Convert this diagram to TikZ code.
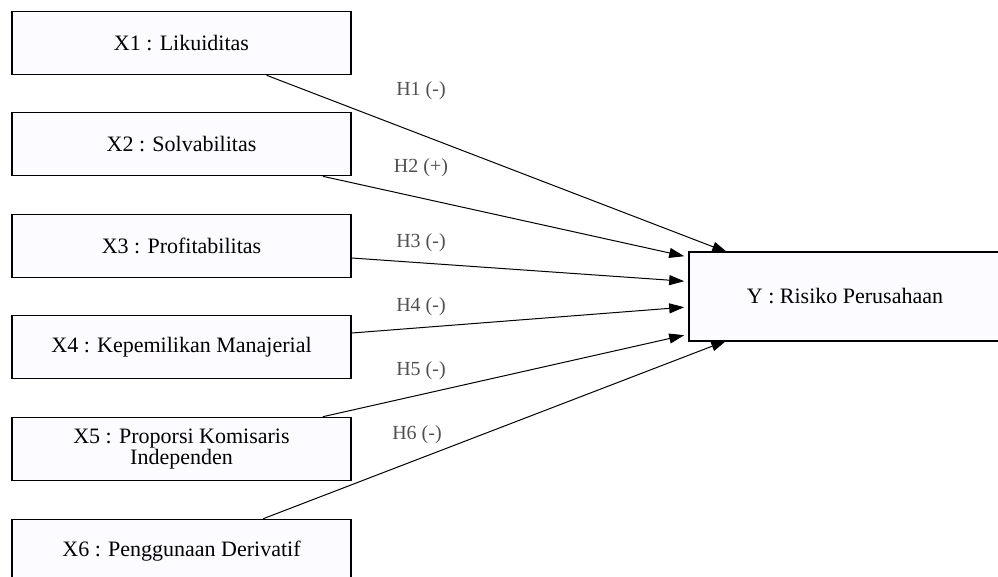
\documentclass[tikz,border=0pt]{standalone}
\usepackage{fontspec}
\setmainfont{Liberation Serif}
\usetikzlibrary{arrows.meta,calc}
\definecolor{boxfill}{HTML}{FCFBFF}
\definecolor{lblgray}{HTML}{505050}
\tikzset{
  varbox/.style={draw=black, line width=1.6pt, fill=boxfill, rectangle, inner sep=0pt,
    font=\fontsize{22}{26}\selectfont, align=center, text=black},
  wide/.style={minimum width=339pt, minimum height=63pt},
  link/.style={line width=1pt, -{Triangle[length=15pt,width=10pt]}},
  hlabel/.style={font=\fontsize{20}{23}\selectfont, text=lblgray, inner sep=0pt}
}
\begin{document}
\begin{tikzpicture}[x=1pt,y=-1pt]
\useasboundingbox (0,0) rectangle (998,576);
\clip (0,0) rectangle (998,576);
\node[varbox,wide] (x1) at (181.5,43) {X1 : Likuiditas};
\node[varbox,wide] (x2) at (181.5,144) {X2 : Solvabilitas};
\node[varbox,wide] (x3) at (181.5,246) {X3 : Profitabilitas};
\node[varbox,wide] (x4) at (181.5,347) {X4 : Kepemilikan Manajerial};
\node[varbox,wide] (x5) at (181.5,449) {X5 : Proporsi Komisaris\\[-5pt]Independen};
\node[varbox,wide] (x6) at (181.5,551) {X6 : Penggunaan Derivatif};
\node[varbox,minimum width=312pt,minimum height=89pt] (y) at (845,296.5) {Y : Risiko Perusahaan};

\draw[link] ($(x1.south west)!0.75!(x1.south east)$) -- ($(y.north west)+(39,1)$);
\draw[link] ($(x2.south west)!0.915!(x2.south east)$) -- ($(y.north west)+(-4,5)$);
\draw[link] ($(x3.east)+(0,12)$) -- ($(y.north west)+(-4,30)$);
\draw[link] ($(x4.east)+(0,-14)$) -- ($(y.north west)+(-4,56)$);
\draw[link] ($(x5.north west)!0.915!(x5.north east)$) -- ($(y.north west)+(-4,84)$);
\draw[link] ($(x6.north west)!0.74!(x6.north east)$) -- ($(y.south west)+(38,-1)$);

\node[hlabel] (h1) at (421,91) {H1 (-)};
\node[hlabel] (h2) at (421,168) {H2 (+)};
\node[hlabel] (h3) at (421,243) {H3 (-)};
\node[hlabel] (h4) at (421,307) {H4 (-)};
\node[hlabel] (h5) at (421,371) {H5 (-)};
\node[hlabel] (h6) at (417,435) {H6 (-)};
\end{tikzpicture}
\end{document}
